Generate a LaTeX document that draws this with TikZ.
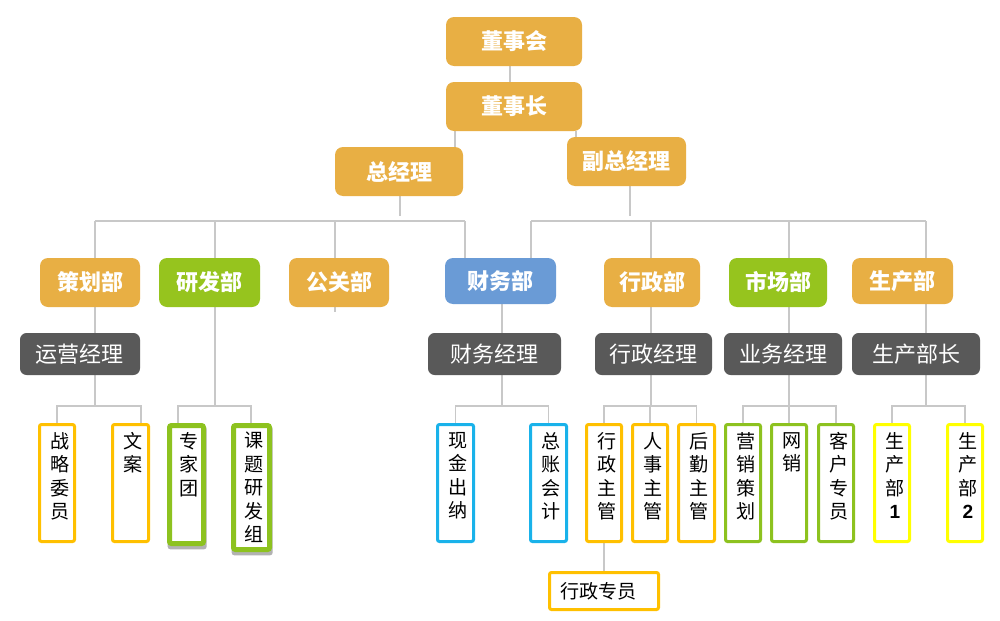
\documentclass[tikz,border=0pt]{standalone}
\usepackage{fontspec}
\setmainfont{Noto Sans CJK SC}
\newfontfamily\lat{Liberation Sans}
\usetikzlibrary{backgrounds}
\definecolor{gold}{HTML}{E8AF44}
\definecolor{lgreen}{HTML}{96C41E}
\definecolor{dblue}{HTML}{6A9BD6}
\definecolor{dgray}{HTML}{595959}
\definecolor{lnc}{HTML}{C8C8C8}
\definecolor{bor}{HTML}{FFC000}
\definecolor{bgr}{HTML}{8DC21F}
\definecolor{bcy}{HTML}{19B2EA}
\definecolor{byl}{HTML}{FFFF00}
\newcommand\bx[7]{\node[#6,minimum width={(#4-#2)*0.75pt},minimum height={(#5-#3)*0.75pt}] (#1) at ({(#2+#4)/2},{(#3+#5)/2}) {#7};}
\newcommand\vb[7]{\node[vbox,draw=#5,line width={#6*0.75pt},minimum width={(#3-#2-#6)*0.75pt},minimum height={(#4-423-#6)*0.75pt}] (#1) at ({(#2+#3)/2},{(423+#4)/2}) {};
\node[vt] (#1t) at ({(#2+#3)/2+3},432) {#7};}
\tikzset{
  topbox/.style={fill=gold,rounded corners=6pt,text=white,inner sep=0pt,outer sep=0pt,font=\bfseries\fontsize{16.5pt}{18pt}\selectfont},
  mgr/.style={fill=dgray,rounded corners=5pt,text=white,inner sep=0pt,outer sep=0pt,font=\fontsize{16.5pt}{18pt}\selectfont},
  vbox/.style={fill=white,rounded corners=1.5pt,inner sep=0pt},
  vt/.style={anchor=north,align=center,inner sep=0pt,font=\fontsize{14.3pt}{17.6pt}\selectfont},
  ln/.style={draw=lnc,line width=1.1pt}
}
\begin{document}
\begin{tikzpicture}[x=0.75pt,y=-0.75pt]
\useasboundingbox (0,0) rectangle (1000,621);
% top
\bx{dsh}{446}{17}{582}{66}{topbox}{董事会}
\bx{dsz}{446}{82}{582}{131}{topbox}{董事长}
\bx{zjl}{335}{147}{463}{196}{topbox}{总经理}
\bx{fz}{567}{137}{686}{186}{topbox}{副总经理}
% departments
\bx{chb}{40}{258}{140}{307}{topbox}{策划部}
\bx{yfb}{159}{258}{260}{307}{topbox,fill=lgreen}{研发部}
\bx{ggb}{289}{258}{389}{307}{topbox}{公关部}
\bx{cwb}{445}{258}{556}{304}{topbox,fill=dblue}{财务部}
\bx{xzb}{604}{258}{700}{307}{topbox}{行政部}
\bx{scb}{729}{258}{827}{307}{topbox,fill=lgreen}{市场部}
\bx{scbu}{852}{258}{953}{304}{topbox}{生产部}
% managers
\bx{yyjl}{20}{333}{140}{375}{mgr}{运营经理}
\bx{cwjl}{428}{333}{561}{375}{mgr}{财务经理}
\bx{xzjl}{595}{333}{712}{375}{mgr}{行政经理}
\bx{ywjl}{724}{333}{842}{375}{mgr}{业务经理}
\bx{scbz}{852}{333}{980}{375}{mgr}{生产部长}
% vertical boxes
\vb{zlwy}{38}{76}{543}{bor}{3}{战\\略\\委\\员}
\vb{wa}{111}{150}{543}{bor}{3}{文\\案}
\vb{zjt}{167}{206}{546}{bgr}{5}{专\\家\\团}
\vb{ktz}{231}{272}{552}{bgr}{5}{课\\题\\研\\发\\组}
\vb{xjcn}{436}{475}{543}{bcy}{3}{现\\金\\出\\纳}
\vb{zzkj}{529}{568}{543}{bcy}{3}{总\\账\\会\\计}
\vb{xzzg}{585}{623}{543}{bor}{3}{行\\政\\主\\管}
\vb{rszg}{631}{669}{543}{bor}{3}{人\\事\\主\\管}
\vb{hqzg}{677}{716}{543}{bor}{3}{后\\勤\\主\\管}
\vb{yxch}{724}{762}{543}{bgr}{3}{营\\销\\策\\划}
\vb{wx}{770}{808}{543}{bgr}{3}{网\\销}
\vb{khzy}{817}{855}{543}{bgr}{3}{客\\户\\专\\员}
\vb{scba}{873}{911}{543}{byl}{3}{生\\产\\部\\{\lat\bfseries 1}}
\vb{scbb}{946}{984}{543}{byl}{3}{生\\产\\部\\{\lat\bfseries 2}}
\bx{xzzy}{549.5}{572.5}{658.5}{609.5}{vbox,draw=bor,line width=2.25pt}{}
\node[vt,anchor=west,font=\fontsize{14.3pt}{16pt}\selectfont] (xzzyt) at (560,591) {行政专员};
\begin{scope}[on background layer]
\fill[white] (0,0) rectangle (1000,621);
\fill[black!30,rounded corners=2pt] ([xshift=0.5pt,yshift=-2.5pt]zjt.south west) rectangle ([xshift=0.5pt,yshift=-2.5pt]zjt.north east);
\fill[black!30,rounded corners=2pt] ([xshift=0.5pt,yshift=-2.5pt]ktz.south west) rectangle ([xshift=0.5pt,yshift=-2.5pt]ktz.north east);
\begin{scope}[ln]
\coordinate (la) at (95,221);
\coordinate (lb) at (465,221);
\coordinate (ra) at (531,221);
\coordinate (rb) at (926,221);
\draw (510,0 |- dsh.south) -- (510,0 |- dsz.north);
\draw (455,0 |- dsz.south) -- (455,0 |- zjl.north);
\draw (576,0 |- dsz.south) -- (576,0 |- fz.north);
\draw (400,0 |- zjl.south) -- (400,216);
\draw (630,0 |- fz.south) -- (630,216);
\draw (la) -- (lb);
\draw (ra) -- (rb);
\draw (la) -- (95,406);
\draw (215,221) -- (215,406);
\draw (335,221) -- (335,312);
\draw (lb) -- (lb |- cwb.north);
\draw (ra) -- (ra |- cwb.north);
\draw (502,0 |- cwb.south) -- (502,406);
\draw (651,221) -- (651,406);
\draw (789,221) -- (789,406);
\draw (rb) -- (926,406);
\draw (57,0 |- zlwy.north) -- (57,406) -- (141,406) -- (141,0 |- wa.north);
\draw (178,0 |- zjt.north) -- (178,406) -- (251,406) -- (251,0 |- ktz.north);
\draw (xjcn.north) |- (zzkj.north |- 0,406) -- (zzkj.north);
\draw (xzzg.north) |- (hqzg.north |- 0,406) -- (hqzg.north);
\draw (rszg.north) -- (rszg.north |- 0,406);
\draw (yxch.north) |- (khzy.north |- 0,406) -- (khzy.north);
\draw (wx.north) -- (wx.north |- 0,406);
\draw (scba.north) |- (scbb.north |- 0,406) -- (scbb.north);
\draw (xzzg.south) -- (xzzg.south |- xzzy.north);
\end{scope}
\end{scope}
\end{tikzpicture}
\end{document}
